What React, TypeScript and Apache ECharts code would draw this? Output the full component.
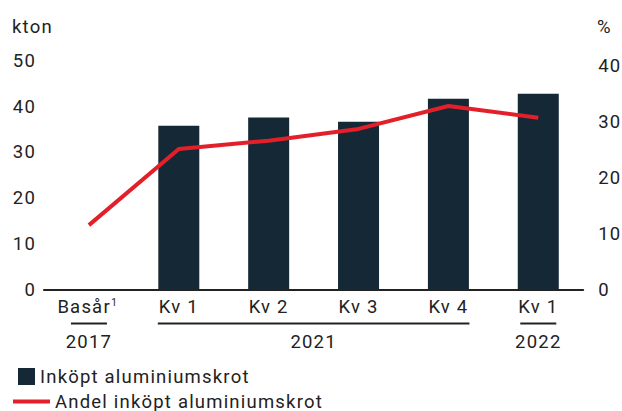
import React, { useEffect, useRef } from "react";
import * as echarts from "echarts";

const categories = ["Basår", "Kv 1", "Kv 2", "Kv 3", "Kv 4", "Kv 1"];
const barValues: (number | null)[] = [null, 35.8, 37.6, 36.7, 41.7, 42.8];
const lineValues = [11.6, 25.2, 26.7, 28.8, 32.9, 30.8];
const leftTicks = [0, 10, 20, 30, 40, 50];
const rightTicks = [0, 10, 20, 30, 40];
const yearGroups = [
  { label: "2017", from: 0, to: 0 },
  { label: "2021", from: 1, to: 4 },
  { label: "2022", from: 5, to: 5 },
];
const barName = "Inköpt aluminiumskrot";
const lineName = "Andel inköpt aluminiumskrot";

const FONT = "Roboto";
const FS = 18.5;
const TEXT = "#222222";
const BAR = "#152836";
const RED = "#e3202a";

export default function App() {
  const ref = useRef<HTMLDivElement>(null);
  useEffect(() => {
    if (!ref.current) return;
    const chart = echarts.init(ref.current, null, { renderer: "svg" });
    chart.setOption({
      animation: false,
      textStyle: { fontFamily: FONT, color: TEXT },
      grid: { left: 44, width: 540, top: 60.7, bottom: 411 - 290, containLabel: false },
      legend: [
        {
          data: [{ name: barName, icon: "rect" }],
          left: 18,
          top: 367,
          itemWidth: 17,
          itemHeight: 17,
          itemGap: 8,
          textStyle: { fontFamily: FONT, fontSize: FS, color: TEXT },
          padding: 0,
          selectedMode: false,
        },
        {
          data: [{ name: lineName, icon: "rect" }],
          left: 13,
          top: 392,
          itemWidth: 37,
          itemHeight: 4,
          itemGap: 8,
          textStyle: { fontFamily: FONT, fontSize: FS, color: TEXT },
          padding: 0,
          selectedMode: false,
        },
      ],
      xAxis: {
        type: "category",
        data: categories,
        axisLine: { show: true, lineStyle: { color: "#222", width: 2 } },
        axisTick: { show: false },
        axisLabel: {
          interval: 0,
          fontFamily: FONT,
          fontSize: FS,
          color: TEXT,
          margin: 7,
          formatter: (v: string, i: number) => (i === 0 ? "{b|" + v + "}{s|1}" : v),
          rich: {
            b: { fontFamily: FONT, fontSize: FS, color: TEXT },
            s: { fontFamily: FONT, fontSize: 10, color: TEXT, verticalAlign: "top", padding: [0, 0, 9, 4] },
          },
        },
      },
      yAxis: [
        {
          type: "value",
          min: leftTicks[0],
          max: leftTicks[leftTicks.length - 1],
          interval: 10,
          splitLine: { show: false },
          axisLine: { show: false },
          axisTick: { show: false },
          axisLabel: { fontFamily: FONT, fontSize: FS, color: TEXT, margin: 8 },
        },
        {
          type: "value",
          min: rightTicks[0],
          max: 41,
          interval: 10,
          splitLine: { show: false },
          axisLine: { show: false },
          axisTick: { show: false },
          axisLabel: {
            fontFamily: FONT,
            fontSize: FS,
            color: TEXT,
            margin: 15,
            showMaxLabel: false,
          },
        },
      ],
      series: [
        {
          name: barName,
          type: "bar",
          data: barValues,
          barWidth: 41,
          itemStyle: { color: BAR },
          yAxisIndex: 0,
        },
        {
          name: lineName,
          type: "line",
          data: lineValues,
          yAxisIndex: 1,
          symbol: "none",
          lineStyle: { color: RED, width: 4 },
          itemStyle: { color: RED },
          z: 5,
        },
      ],
    });

    const graphics: any[] = [
      {
        type: "text",
        left: 12,
        top: 17,
        style: { text: "kton", fontFamily: FONT, fontSize: FS, fill: TEXT },
      },
      {
        type: "text",
        left: 597,
        top: 17,
        style: { text: "%", fontFamily: FONT, fontSize: FS, fill: TEXT },
      },
    ];
    yearGroups.forEach((g) => {
      const x0 = chart.convertToPixel({ xAxisIndex: 0 }, g.from) as number;
      const x1 = chart.convertToPixel({ xAxisIndex: 0 }, g.to) as number;
      const half = g.from === g.to ? 18 : 21;
      graphics.push({
        type: "line",
        shape: { x1: x0 - half, y1: 323.5, x2: x1 + half, y2: 323.5 },
        style: { stroke: "#222", lineWidth: 2 },
      });
      graphics.push({
        type: "text",
        x: (x0 + x1) / 2,
        y: 342,
        style: {
          text: g.label,
          fontFamily: FONT,
          fontSize: FS,
          fill: TEXT,
          align: "center",
          verticalAlign: "middle",
        },
      });
    });
    chart.setOption({ graphic: graphics });
    return () => chart.dispose();
  }, []);
  return (
    <>
      <style>{".chartbox svg text { letter-spacing: 1.2px; }"}</style>
      <div
        ref={ref}
        className="chartbox"
        style={{ width: 622, height: 411, position: "absolute", left: 0, top: 0 }}
      />
    </>
  );
}
